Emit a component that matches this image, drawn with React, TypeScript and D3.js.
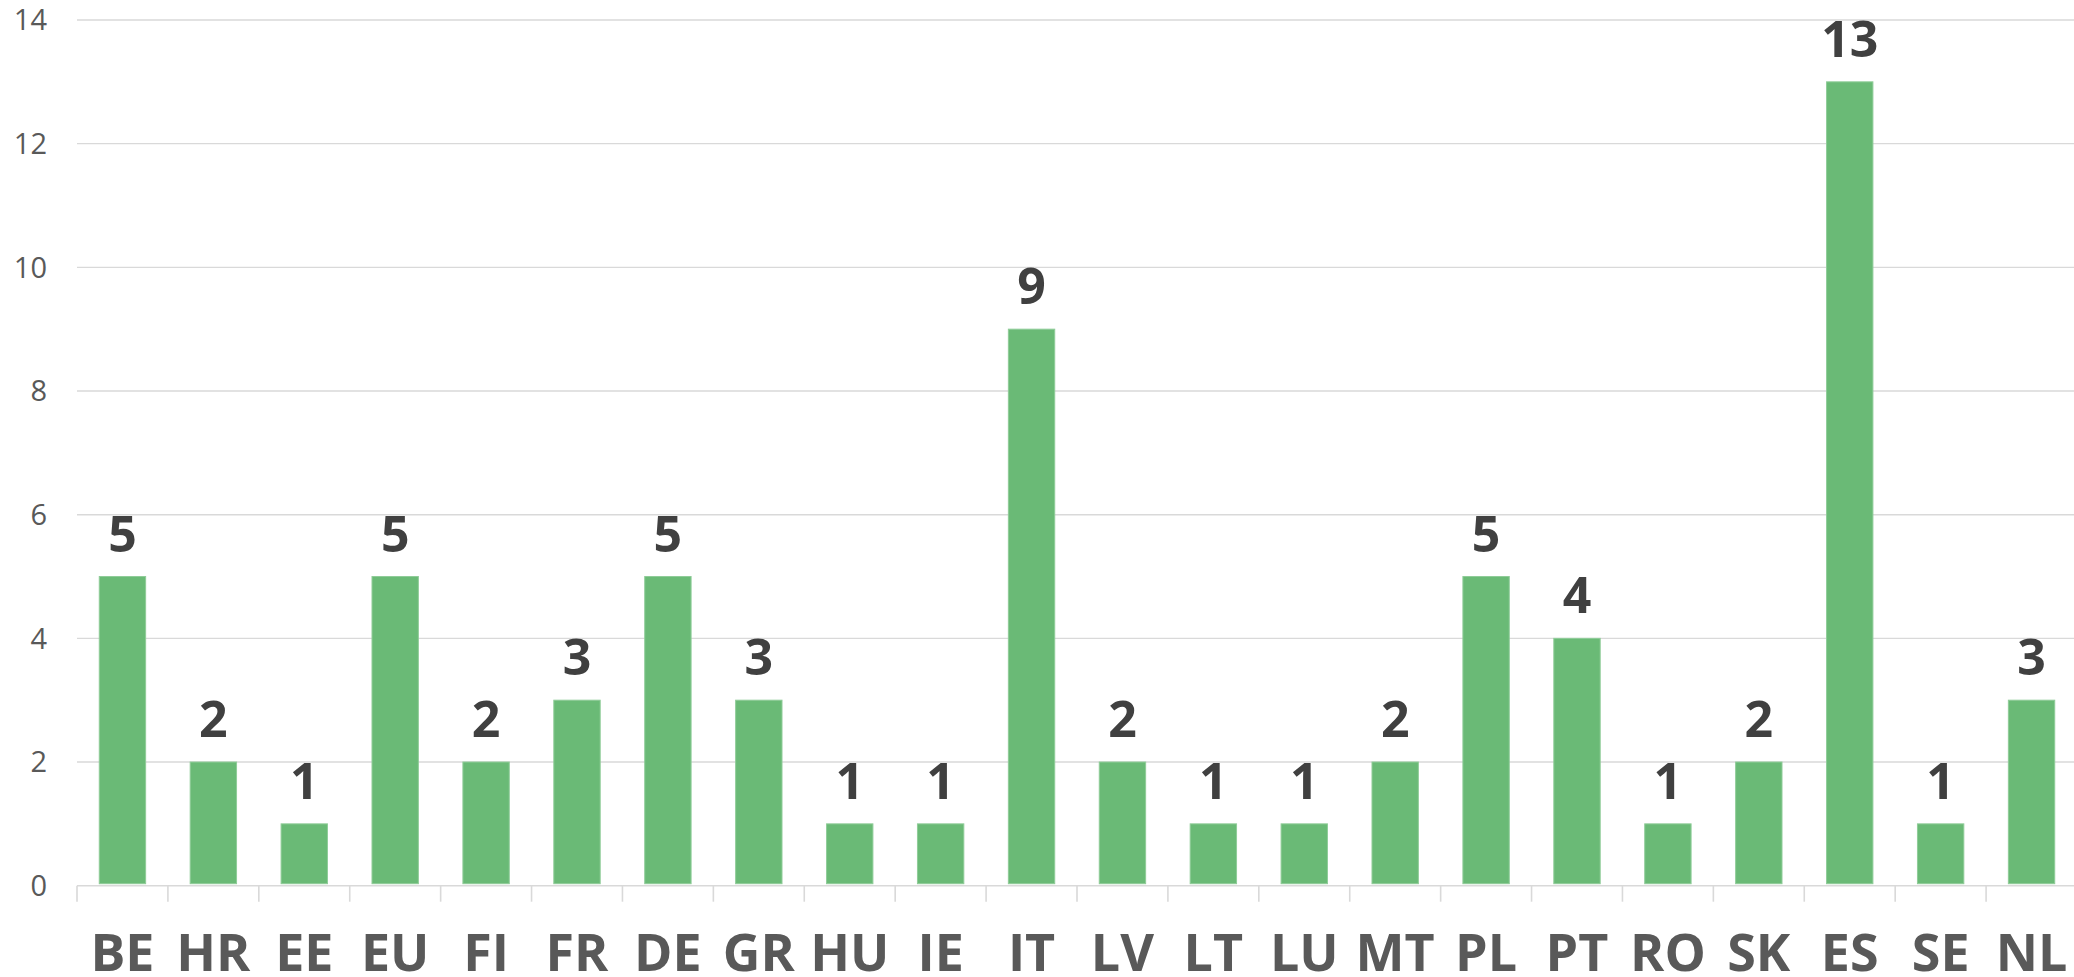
import React from "react";
import * as d3 from "d3";

const categories = ["BE","HR","EE","EU","FI","FR","DE","GR","HU","IE","IT","LV","LT","LU","MT","PL","PT","RO","SK","ES","SE","NL"];
const values = [5,2,1,5,2,3,5,3,1,1,9,2,1,1,2,5,4,1,2,13,1,3];
const yTicks = [0,2,4,6,8,10,12,14];

const W = 2074, H = 977;
const left = 77, right = 2077, top = 20, bottom = 885.7;
const FONT = "'Open Sans', 'Segoe UI', sans-serif";

export default function App() {
  const x = d3.scaleBand<string>().domain(categories).range([left, right]).paddingInner(0.49).paddingOuter(0.245);
  const y = d3.scaleLinear().domain([0, 14]).range([bottom, top]);
  const step = x.step();
  return (
    <svg width={W} height={H} style={{ position: "absolute", left: 0, top: 0, background: "#fff" }}>
      {yTicks.filter(t => t > 0).map(t => (
        <line key={"g" + t} x1={left} x2={W} y1={y(t)} y2={y(t)} stroke="#d9d9d9" strokeWidth={1.4} />
      ))}
      {yTicks.map(t => (
        <text key={"y" + t} x={47} y={y(t)} dy="0.36em" textAnchor="end" fontFamily={FONT} fontSize={29} fill="#595959">{t}</text>
      ))}
      <line x1={left} x2={W} y1={bottom} y2={bottom} stroke="#d9d9d9" strokeWidth={1.6} />
      {categories.map((c, i) => {
        const x0 = left + i * step;
        return <line key={"t" + c} x1={x0} x2={x0} y1={bottom} y2={bottom + 16} stroke="#d9d9d9" strokeWidth={1.6} />;
      })}
      {categories.map((c, i) => (
        <rect key={"b" + c} x={x(c)} y={y(values[i])} width={x.bandwidth()} height={y(0) - y(values[i]) - 2}
          fill="#6aba76" stroke="#8fcc98" strokeWidth={1} />
      ))}
      {categories.map((c, i) => (
        <text key={"v" + c} x={(x(c) as number) + x.bandwidth() / 2} y={y(values[i]) - 25} textAnchor="middle"
          fontFamily={FONT} fontWeight="bold" fontSize={50} fill="#404040">{values[i]}</text>
      ))}
      {categories.map((c) => (
        <text key={"l" + c} x={(x(c) as number) + x.bandwidth() / 2} y={971} textAnchor="middle"
          fontFamily={FONT} fontWeight="bold" fontSize={52} fill="#595959">{c}</text>
      ))}
    </svg>
  );
}
